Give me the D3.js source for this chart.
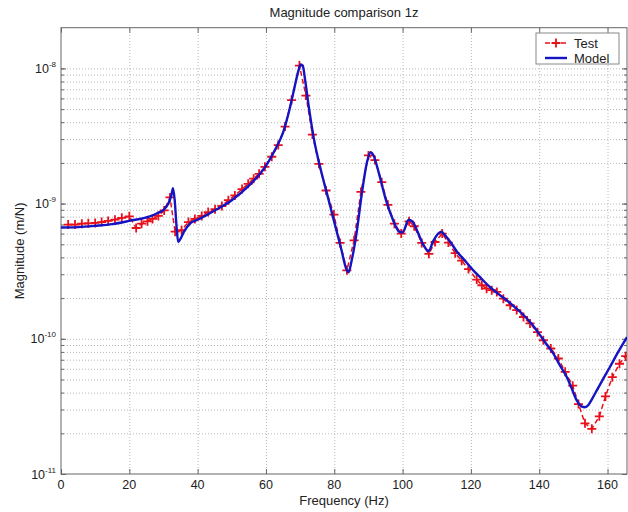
<!DOCTYPE html>
<html>
<head>
<meta charset="utf-8">
<script src="https://cdn.jsdelivr.net/npm/d3@7"></script>
<style>
  body { margin: 0; background: #fff; }
  svg { font-family: "Liberation Sans", Arial, sans-serif; }
</style>
</head>
<body>
<svg id="chart" width="628" height="512"></svg>
<script>
var chartTitle = "Magnitude comparison 1z";
var xLabel = "Frequency (Hz)";
var yLabel = "Magnitude (m/N)";
var seriesNames = ["Test", "Model"];
var xTicks = [0, 20, 40, 60, 80, 100, 120, 140, 160];
var yDecades = [1e-11, 1e-10, 1e-9, 1e-8];
var yExponents = ["-11", "-10", "-9", "-8"];

var testFreq = [2.1, 4.1, 6.1, 8.0, 10.0, 11.9, 13.8, 15.8, 17.8, 20.0, 22.0, 23.6, 25.3, 26.8, 28.5, 30.2, 31.9, 33.4,
  35.3, 37.3, 39.2, 41.2, 43.1, 45.1, 47.1, 49.0, 50.9, 53.0, 54.8, 56.4, 58.0, 59.7, 61.7, 63.6, 65.6, 67.5, 69.8,
  71.7, 73.6, 75.5, 77.6, 79.9, 81.7, 83.7, 85.8, 87.8, 90.0, 91.9, 93.9, 95.7, 97.6, 99.6, 101.9, 103.4, 105.6,
  107.7, 109.5, 111.6, 113.4, 115.4, 117.3, 119.3, 121.7, 123.2, 124.6, 126.1, 127.6, 129.5, 131.5, 133.4, 135.4,
  137.3, 139.5, 141.2, 143.4, 145.6, 147.6, 149.8, 151.5, 153.4, 155.4, 157.6, 159.4, 161.4, 163.5, 165.3];
var testMag = [7.0e-10, 7.0e-10, 7.1e-10, 7.15e-10, 7.2e-10, 7.3e-10, 7.45e-10, 7.6e-10, 7.85e-10, 8.05e-10, 6.6e-10,
  7.1e-10, 7.4e-10, 7.7e-10, 8.1e-10, 8.9e-10, 1.11e-9, 6.2e-10, 6.35e-10, 7.3e-10, 7.7e-10, 8.1e-10, 8.65e-10,
  9.1e-10, 9.6e-10, 1.06e-9, 1.15e-9, 1.28e-9, 1.40e-9, 1.53e-9, 1.66e-9, 1.87e-9, 2.22e-9, 2.71e-9, 3.71e-9,
  5.83e-9, 1.05e-8, 6.3e-9, 3.24e-9, 1.97e-9, 1.25e-9, 8.3e-10, 5.12e-10, 3.21e-10, 5.35e-10, 1.22e-9, 2.27e-9,
  2.1e-9, 1.44e-9, 9.8e-10, 7.1e-10, 6.0e-10, 7.4e-10, 6.8e-10, 5.12e-10, 4.25e-10, 5.2e-10, 6.0e-10, 5.15e-10,
  4.3e-10, 3.78e-10, 3.28e-10, 2.74e-10, 2.49e-10, 2.35e-10, 2.29e-10, 2.22e-10, 1.98e-10, 1.77e-10, 1.63e-10,
  1.45e-10, 1.30e-10, 1.12e-10, 9.76e-11, 8.48e-11, 7.15e-11, 5.7e-11, 4.5e-11, 3.29e-11, 2.37e-11, 2.16e-11,
  2.67e-11, 3.75e-11, 5.2e-11, 6.54e-11, 7.44e-11];

// model curve
var modelFreq = [0, 5, 10, 15, 20, 26, 28, 30, 31.5, 32.3, 32.8, 33.3, 33.8, 34.3, 35, 36, 38, 40, 45, 50, 55, 60,
  63, 65, 67, 68.5, 69.5, 70.2, 70.8, 71.5, 72.5, 74, 76, 78, 80, 82, 83.5, 84.2, 85, 86.5, 88, 89.5, 90.6, 91.5,
  93, 95, 97, 99, 100, 101.8, 103, 104.5, 106, 107.6, 109, 110.6, 111.3, 112.5, 114, 116, 118, 120.7, 123, 125.6,
  128, 130.5, 133, 135.4, 138, 140.3, 142, 144.1, 146, 148.1, 149.5, 151, 152.5, 153.4, 154.4, 155.5, 156.9,
  158.8, 160.7, 163, 165.7];
var modelMag = [6.65e-10, 6.7e-10, 6.85e-10, 7.05e-10, 7.45e-10, 8.05e-10, 8.45e-10, 9.0e-10, 1.01e-9, 1.15e-9,
  1.30e-9, 1.05e-9, 6.9e-10, 5.2e-10, 5.5e-10, 6.2e-10, 7.2e-10, 7.6e-10, 8.9e-10, 1.06e-9, 1.36e-9, 1.9e-9,
  2.6e-9, 3.35e-9, 5.1e-9, 7.5e-9, 9.6e-9, 1.07e-8, 1.04e-8, 8.1e-9, 5.3e-9, 3.05e-9, 1.8e-9, 1.15e-9, 7.3e-10,
  4.65e-10, 3.3e-10, 3.1e-10, 3.7e-10, 6.0e-10, 1.15e-9, 1.98e-9, 2.4e-9, 2.27e-9, 1.7e-9, 1.09e-9, 7.8e-10,
  6.2e-10, 6.1e-10, 7.6e-10, 7.3e-10, 6.1e-10, 5.0e-10, 4.45e-10, 5.3e-10, 6.05e-10, 6.2e-10, 5.8e-10, 5.2e-10,
  4.38e-10, 3.85e-10, 3.21e-10, 2.8e-10, 2.41e-10, 2.15e-10, 1.93e-10, 1.70e-10, 1.50e-10, 1.27e-10, 1.06e-10,
  9.2e-11, 7.8e-11, 6.4e-11, 5.2e-11, 4.3e-11, 3.5e-11, 3.15e-11, 3.12e-11, 3.24e-11, 3.6e-11, 4.17e-11, 5.1e-11,
  6.19e-11, 7.9e-11, 1.03e-10];

var testColor = "#e8101a";
var modelColor = "#1414c4";
var axisColor = "#666";
var gridColor = "#b8b8b8";

var plotLeft = 61, plotRight = 627, plotTop = 27.7, plotBottom = 474;

var x = d3.scaleLinear().domain([0, 165.7]).range([plotLeft, plotRight]);
var y = d3.scaleLog().domain([1e-11, 2e-8]).range([plotBottom, plotTop]);

var svg = d3.select("#chart");

svg.append("clipPath").attr("id", "plotclip")
    .append("rect").attr("x", plotLeft).attr("y", plotTop)
    .attr("width", plotRight - plotLeft).attr("height", plotBottom - plotTop);

// grid lines
var gridX = svg.append("g").attr("transform", "translate(0," + plotBottom + ")")
    .call(d3.axisBottom(x).tickValues(xTicks.slice(1)).tickSize(-(plotBottom - plotTop)).tickFormat(""));
var minorY = y.ticks().filter(function (d) { return d > 1e-11 && d < 2e-8; });
var gridY = svg.append("g").attr("transform", "translate(" + plotLeft + ",0)")
    .call(d3.axisLeft(y).tickValues(minorY).tickSize(-(plotRight - plotLeft)).tickFormat(""));
[gridX, gridY].forEach(function (g) {
    g.select(".domain").remove();
    g.selectAll("line").attr("stroke", gridColor).attr("stroke-dasharray", "1,2");
});

// inward tick marks on all four sides
function ticks(axis, tr, vals, size) {
    var g = svg.append("g").attr("transform", tr)
        .call(axis.tickValues(vals).tickSize(size).tickFormat(""));
    g.select(".domain").remove();
    g.selectAll("line").attr("stroke", axisColor);
}
ticks(d3.axisBottom(x), "translate(0," + plotBottom + ")", xTicks, -5);
ticks(d3.axisTop(x), "translate(0," + plotTop + ")", xTicks, -5);
ticks(d3.axisLeft(y), "translate(" + plotLeft + ",0)", yDecades, -5);
ticks(d3.axisLeft(y), "translate(" + plotLeft + ",0)", minorY, -3);
ticks(d3.axisRight(y), "translate(" + plotRight + ",0)", yDecades, -5);
ticks(d3.axisRight(y), "translate(" + plotRight + ",0)", minorY, -3);

// box
svg.append("rect").attr("x", plotLeft).attr("y", plotTop)
    .attr("width", plotRight - plotLeft).attr("height", plotBottom - plotTop)
    .attr("fill", "none").attr("stroke", axisColor).attr("stroke-width", 1);

// data
var plot = svg.append("g").attr("clip-path", "url(#plotclip)");

var testData = testFreq.map(function (f, i) { return { f: f, m: testMag[i] }; });
var modelData = modelFreq.map(function (f, i) { return { f: f, m: modelMag[i] }; });

var line = d3.line()
    .x(function (d) { return x(d.f); })
    .y(function (d) { return y(d.m); });

plot.append("path").datum(testData)
    .attr("d", line)
    .attr("fill", "none").attr("stroke", testColor).attr("stroke-width", 1.5)
    .attr("stroke-dasharray", "5,3");

plot.selectAll(".mk").data(testData).enter().append("path")
    .attr("class", "mk")
    .attr("d", function (d) {
        var cx = x(d.f), cy = y(d.m), r = 4.5;
        return "M" + (cx - r) + "," + cy + "H" + (cx + r) + "M" + cx + "," + (cy - r) + "V" + (cy + r);
    })
    .attr("stroke", testColor).attr("stroke-width", 1.8).attr("fill", "none");

plot.append("path").datum(modelData)
    .attr("d", line.curve(d3.curveMonotoneX))
    .attr("fill", "none").attr("stroke", modelColor).attr("stroke-width", 2.4);

// tick labels
svg.append("g").selectAll("text").data(xTicks).enter().append("text")
    .attr("x", function (d) { return x(d); })
    .attr("y", 489)
    .attr("text-anchor", "middle")
    .attr("font-size", "12.5px")
    .attr("fill", "#222")
    .text(function (d) { return d; });

var yl = svg.append("g").selectAll("text").data(yDecades).enter().append("text")
    .attr("x", 56)
    .attr("y", function (d) { return y(d) + 4.5; })
    .attr("text-anchor", "end")
    .attr("font-size", "12.5px")
    .attr("fill", "#222");
yl.append("tspan").text("10");
yl.append("tspan").attr("dy", -6).attr("font-size", "8px").text(function (d, i) { return yExponents[i]; });

// titles
svg.append("text").attr("x", (plotLeft + plotRight) / 2).attr("y", 17)
    .attr("text-anchor", "middle").attr("font-size", "13px").attr("fill", "#222").text(chartTitle);
svg.append("text").attr("x", (plotLeft + plotRight) / 2).attr("y", 505)
    .attr("text-anchor", "middle").attr("font-size", "13px").attr("fill", "#222").text(xLabel);
svg.append("text").attr("transform", "translate(24," + ((plotTop + plotBottom) / 2) + ") rotate(-90)")
    .attr("text-anchor", "middle").attr("font-size", "13px").attr("fill", "#222").text(yLabel);

// legend
var lg = svg.append("g");
lg.append("rect").attr("x", 536).attr("y", 33).attr("width", 83).attr("height", 31)
    .attr("fill", "#fff").attr("stroke", "#888");
lg.append("line").attr("x1", 545).attr("x2", 567).attr("y1", 43).attr("y2", 43)
    .attr("stroke", testColor).attr("stroke-width", 1.5).attr("stroke-dasharray", "5,3");
lg.append("path").attr("d", "M551.5,43H560.5M556,38.5V47.5")
    .attr("stroke", testColor).attr("stroke-width", 1.8);
lg.append("line").attr("x1", 545).attr("x2", 567).attr("y1", 58).attr("y2", 58)
    .attr("stroke", modelColor).attr("stroke-width", 2.4);
lg.selectAll("text").data(seriesNames).enter().append("text")
    .attr("x", 574).attr("y", function (d, i) { return 47.5 + i * 15; })
    .attr("font-size", "13px").attr("fill", "#222")
    .text(function (d) { return d; });
</script>
</body>
</html>
